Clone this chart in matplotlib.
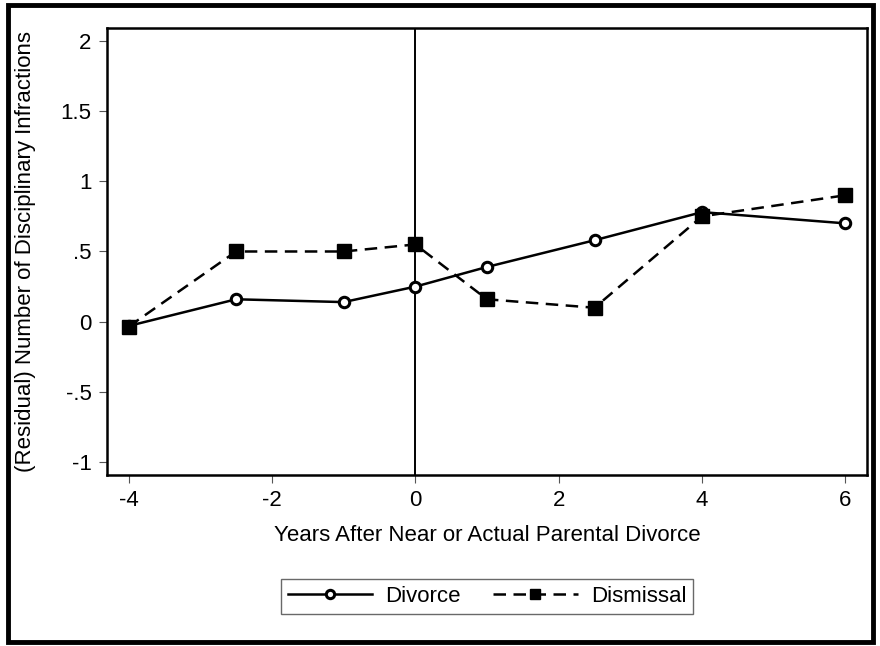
import matplotlib
matplotlib.use("Agg")
import matplotlib.pyplot as plt
from matplotlib.patches import Rectangle

plt.rcParams['font.family'] = ['Liberation Sans', 'DejaVu Sans']
plt.rcParams['axes.unicode_minus'] = False

# years relative to divorce
years = [-4, -2.5, -1, 0, 1, 2.5, 4, 6]
divorce = [-0.03, 0.16, 0.14, 0.25, 0.39, 0.58, 0.78, 0.70]
dismissal = [-0.035, 0.50, 0.50, 0.55, 0.16, 0.10, 0.75, 0.90]

xticks = [-4, -2, 0, 2, 4, 6]
xticklabels = ["-4", "-2", "0", "2", "4", "6"]
yticks = [-1, -0.5, 0, 0.5, 1, 1.5, 2]
yticklabels = ["-1", "-.5", "0", ".5", "1", "1.5", "2"]


def main():
    fig = plt.figure(figsize=(8.8, 6.46), dpi=100)
    ax = fig.add_axes([0.1216, 0.2647, 0.8636, 0.692])

    ax.axvline(0, color='black', lw=1.4, zorder=1)
    ax.plot(years, divorce, color='black', lw=1.8, marker='o', ms=7.5,
            mfc='white', mec='black', mew=2.2, label='Divorce', zorder=3)
    ax.plot(years, dismissal, color='black', lw=1.8, ls=(0, (5, 3)), marker='s',
            ms=9.5, mfc='black', mec='black', label='Dismissal', zorder=3)

    ax.set_xlim(-4.3, 6.3)
    ax.set_ylim(-1.09, 2.09)
    ax.set_xticks(xticks)
    ax.set_xticklabels(xticklabels)
    ax.set_yticks(yticks)
    ax.set_yticklabels(yticklabels)
    ax.tick_params(direction='out', length=6, width=0.8, labelsize=16, pad=5,
                   color='#555555')
    for s in ax.spines.values():
        s.set_linewidth(1.8)

    ax.set_xlabel("Years After Near or Actual Parental Divorce", fontsize=16, labelpad=10)
    ax.set_ylabel("(Residual) Number of Disciplinary Infractions", fontsize=16, labelpad=18)

    leg = ax.legend(loc='center', bbox_to_anchor=(0.5, -0.272), ncol=2, fontsize=16,
                    frameon=True, fancybox=False, edgecolor='#444444',
                    handlelength=3.8, columnspacing=1.45, handletextpad=0.6,
                    borderpad=0.3, borderaxespad=0, markerscale=0.8)
    leg.get_frame().set_linewidth(1.0)

    # outer frame around the graph region
    fig.patches.append(Rectangle((0.0095, 0.006), 0.982, 0.987, transform=fig.transFigure,
                                 fill=False, edgecolor='black', lw=3.5))

    fig.savefig("out.png", dpi=100)


if __name__ == '__main__':
    main()
